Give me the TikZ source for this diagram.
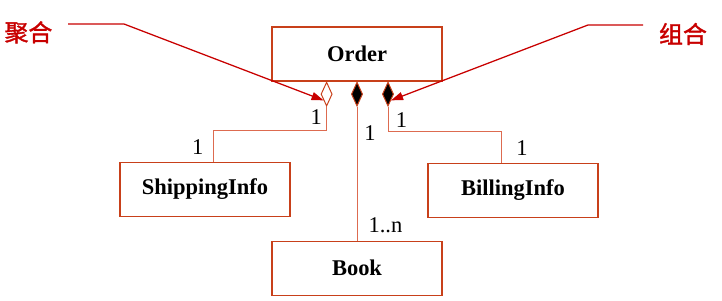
\documentclass[tikz,border=0pt]{standalone}
\usepackage{fontspec}
\setmainfont{Liberation Serif}
\newfontfamily\cjk{Noto Sans CJK SC}[FakeBold=1.5]
\usetikzlibrary{positioning, arrows.meta, shapes.geometric}

\definecolor{boxred}{HTML}{C8401A}
\definecolor{linkred}{HTML}{DD6B50}
\definecolor{notered}{HTML}{C80000}

\begin{document}
\begin{tikzpicture}[
    >=Stealth,
    class/.style={draw=boxred, line width=0.9pt, rectangle, minimum width=4.25cm, minimum height=1.35cm,
        font=\fontsize{16}{19}\selectfont\bfseries},
    hollow/.style={draw=boxred, line width=0.7pt, diamond, fill=white, minimum width=0.28cm, minimum height=0.6cm, inner sep=0pt},
    solid/.style={hollow, fill=black},
    link/.style={draw=linkred, line width=0.7pt},
    mult/.style={font=\fontsize{16}{19}\selectfont, inner sep=0pt},
    note/.style={draw=notered, line width=0.9pt, -{Triangle[length=0.3cm, width=0.2cm]}},
    notetext/.style={text=notered, font=\fontsize{17}{20}\selectfont\cjk},
]
\useasboundingbox (0,0) rectangle (18.05,7.5);

% Classes
\node[class] (order) at (8.925,6.15) {Order};
\node[class, below=2cm of order, xshift=-3.8cm] (ship) {ShippingInfo};
\node[class, below=2.025cm of order, xshift=3.9cm] (bill) {BillingInfo};
\node[class, below=3.975cm of order] (book) {Book};

% Aggregation / composition ends on Order
\node[hollow, anchor=north] (aggr) at ([xshift=-0.76cm]order.south) {};
\node[solid, anchor=north] (comp) at (order.south) {};
\node[solid, anchor=north] (compb) at ([xshift=0.775cm]order.south) {};

% Associations
\draw[link] (aggr.south) -- ++(0,-0.6) -| ([xshift=0.2cm]ship.north);
\draw[link] (comp.south) -- (book.north);
\draw[link] (compb.south) -- ++(0,-0.625) -| ([xshift=-0.28cm]bill.north);

% Multiplicities
\node[mult] (m1) at ([xshift=-0.26cm, yshift=-0.25cm]aggr.south) {1};
\node[mult] (m2) at ([xshift=-0.18cm, yshift=0.36cm]ship.north) {1};
\node[mult] (m3) at ([xshift=0.325cm, yshift=-0.66cm]comp.south) {1};
\node[mult] (m4) at ([xshift=0.71cm, yshift=0.39cm]book.north) {1..n};
\node[mult] (m5) at ([xshift=0.34cm, yshift=-0.34cm]compb.south) {1};
\node[mult] (m6) at ([xshift=0.225cm, yshift=0.36cm]bill.north) {1};

% Notes
\node[notetext] (juhe) at (0.71,6.69) {聚合};
\node[notetext] (zuhe) at (17.075,6.65) {组合};
\coordinate (juhestart) at (1.7,6.9);
\coordinate (zuhestart) at (16.075,6.875);
\draw[note] (juhestart) -- ++(1.4,0) -- (aggr.south west);
\draw[note] (zuhestart) -- ++(-1.375,0) -- (compb.south east);

\end{tikzpicture}
\end{document}
